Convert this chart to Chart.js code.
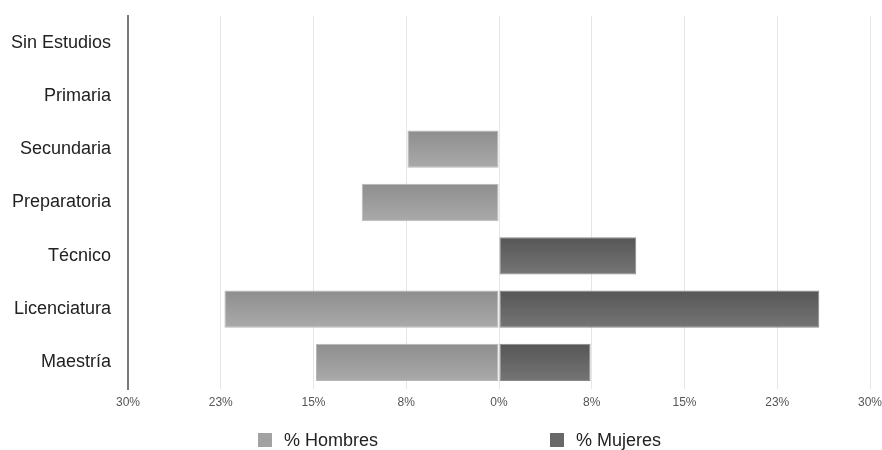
<!DOCTYPE html>
<html>
<head>
<meta charset="utf-8">
<script src="https://cdn.jsdelivr.net/npm/chart.js@4/dist/chart.umd.min.js"></script>
<style>
  html, body { margin: 0; padding: 0; background: #fff; }
  #wrap { position: relative; width: 882px; height: 450px; font-family: "Liberation Sans", Arial, sans-serif; }
  #c { position: absolute; left: 0; top: 0; }
  .lg { position: absolute; top: 430px; height: 20px; display: flex; align-items: center; font-size: 18px; color: #222; }
  .lg .box { width: 14px; height: 14px; margin-right: 12px; }
</style>
</head>
<body>
<div id="wrap">
  <canvas id="c" width="882" height="450"></canvas>
  <div class="lg" style="left:258px"><span class="box" style="background:#a2a2a2"></span><span id="lg0"></span></div>
  <div class="lg" style="left:550px"><span class="box" style="background:#686868"></span><span id="lg1"></span></div>
</div>
<script>
const categories = ["Sin Estudios", "Primaria", "Secundaria", "Preparatoria", "Técnico", "Licenciatura", "Maestría"];
const seriesNames = ["% Hombres", "% Mujeres"];
const hombres = [0, 0, -7.4, -11.1, 0, -22.2, -14.8];
const mujeres = [0, 0, 0, 0, 11.1, 25.9, 7.4];
const xTicks = [-30, -22.5, -15, -7.5, 0, 7.5, 15, 22.5, 30];

document.getElementById('lg0').textContent = seriesNames[0];
document.getElementById('lg1').textContent = seriesNames[1];

const BAR_PCT = 0.7;
function gradFill(top, bottom) {
  return function(ctx) {
    const chart = ctx.chart;
    const area = chart.chartArea;
    if (!area || ctx.dataIndex === undefined) return top;
    const y = chart.scales.y.getPixelForValue(ctx.dataIndex);
    const h = area.height / categories.length * BAR_PCT;
    const g = chart.ctx.createLinearGradient(0, y - h / 2, 0, y + h / 2);
    g.addColorStop(0, top);
    g.addColorStop(1, bottom);
    return g;
  };
}

new Chart(document.getElementById('c'), {
  type: 'bar',
  data: {
    labels: categories,
    datasets: [
      { label: seriesNames[0], data: hombres, backgroundColor: gradFill('#8e8e8e', '#aaaaaa'), borderColor: '#b8b8b8', borderWidth: 1, borderSkipped: false, barPercentage: BAR_PCT, categoryPercentage: 1 },
      { label: seriesNames[1], data: mujeres, backgroundColor: gradFill('#565656', '#757575'), borderColor: '#8a8a8a', borderWidth: 1, borderSkipped: false, barPercentage: BAR_PCT, categoryPercentage: 1 }
    ]
  },
  options: {
    indexAxis: 'y',
    responsive: false,
    animation: false,
    layout: { padding: { top: 16, right: 12, left: 0, bottom: 0 } },
    plugins: { legend: { display: false }, tooltip: { enabled: false } },
    scales: {
      x: {
        stacked: true,
        min: -30, max: 30,
        afterBuildTicks: s => { s.ticks = xTicks.map(v => ({ value: v })); },
        afterFit: s => { s.height = 61; s.paddingLeft = 0; s.paddingRight = 0; },
        grid: { color: '#e6e6e6', lineWidth: 1, drawTicks: false },
        border: { display: false },
        ticks: {
          padding: 6,
          color: '#555',
          font: { family: '"Liberation Sans", Arial, sans-serif', size: 12 },
          maxRotation: 0,
          callback: v => Math.round(Math.abs(v)) + '%'
        }
      },
      y: {
        stacked: true,
        afterFit: s => { s.width = 128; s.paddingTop = 0; s.paddingBottom = 0; },
        grid: { display: false, drawTicks: false },
        border: { display: true, color: '#7a7a7a', width: 2 },
        ticks: {
          padding: 17,
          color: '#222',
          font: { family: '"Liberation Sans", Arial, sans-serif', size: 18 }
        }
      }
    }
  }
});
</script>
</body>
</html>
